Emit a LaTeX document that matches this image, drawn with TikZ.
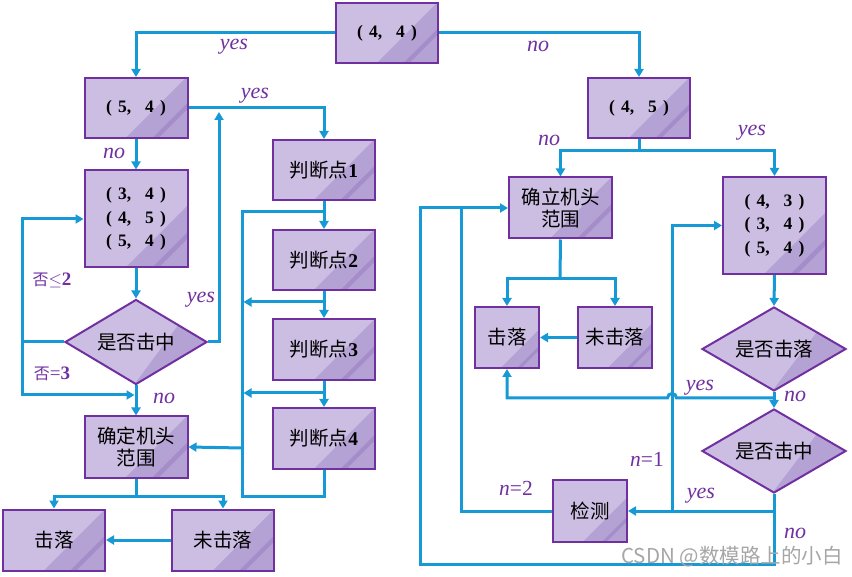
\documentclass[tikz,border=0pt]{standalone}
\usepackage{fontspec}
\setmainfont{Liberation Serif}
\newfontfamily\cjk{Noto Sans CJK SC}
\usetikzlibrary{arrows.meta,shapes.geometric,calc}
\definecolor{boxlight}{HTML}{CCBEE2}
\definecolor{boxmid}{HTML}{B5A2D4}
\definecolor{boxstripe}{HTML}{A48DC8}
\definecolor{boxborder}{HTML}{7030A0}
\definecolor{linkblue}{HTML}{1799D6}
\definecolor{labpurple}{HTML}{7030A0}
\newcommand\paircoord[2]{{\fontsize{17.5}{23.5}\selectfont\bfseries (\hspace{0.35em}#1,\hspace{0.8em}#2\hspace{0.35em})}}
\tikzset{
  glossrect/.style={path picture={
    \fill[boxmid] let \p1=(path picture bounding box.south west), \p2=(path picture bounding box.north east), \n1={0.6*(\x2-\x1)} in (\x2-\n1,\y1) -- (\x2+2pt,\y1) -- (\x2+2pt,\y1+\n1+2pt) -- cycle;
    \fill[boxstripe] let \p1=(path picture bounding box.south west), \p2=(path picture bounding box.north east), \n2={0.34*(\x2-\x1)}, \n3={0.28*(\x2-\x1)} in (\x2-\n2,\y1) -- (\x2-\n3,\y1) -- (\x2,\y1+\n3) -- (\x2,\y1+\n2) -- cycle;
  }},
  glossdia/.style={path picture={
    \fill[boxmid] let \p1=(path picture bounding box.south west), \p2=(path picture bounding box.north east), \n1={0.49*(\x2-\x1)}, \n2={0.93*(\x2-\x1)} in (\x1+\n1,\y1) -- (\x2,\y1) -- (\x2,\y2) -- (\x1+\n2,\y2) -- cycle;
    \fill[boxstripe] let \p1=(path picture bounding box.south west), \p2=(path picture bounding box.north east), \n1={0.74*(\x2-\x1)}, \n2={0.79*(\x2-\x1)}, \n3={0.43*(\y2-\y1)} in (\x1+\n1,\y1) -- (\x1+\n2,\y1) -- (\x1+\n2+\n3*0.73,\y1+\n3) -- (\x1+\n1+\n3*0.73,\y1+\n3) -- cycle;
  }},
  box/.style={rectangle, draw=boxborder, line width=2pt, fill=boxlight, inner sep=0pt, align=center,
    font=\fontsize{19.5}{23.5}\selectfont, text=black, glossrect},
  dia/.style={diamond, draw=boxborder, line width=2pt, fill=boxlight, inner sep=0pt, aspect=1.67,
    font=\fontsize{19.5}{23.5}\selectfont, text=black, glossdia},
  conn/.style={draw=linkblue, line width=3pt},
  arr/.style={conn, -{Triangle[length=8pt,width=9pt]}},
  lbl/.style={text=labpurple, inner sep=0pt, font=\fontsize{22}{22}\selectfont\itshape},
  lblc/.style={text=labpurple, inner sep=0pt, font=\fontsize{19}{19}\selectfont},
  lbln/.style={text=labpurple, inner sep=0pt, font=\fontsize{21.5}{21.5}\selectfont},
}
\begin{document}
\begin{tikzpicture}[x=1pt,y=-1pt]
\useasboundingbox (0,0) rectangle (852,577);
\fill[white] (0,0) rectangle (852,577);

% ---------- nodes ----------
\node[box, minimum width=102pt, minimum height=60pt] (n44) at (387,33) {\paircoord{4}{4}};
\node[box, minimum width=103pt, minimum height=60pt] (n54) at (136,108) {\paircoord{5}{4}};
\node[box, minimum width=102pt, minimum height=60pt] (n45) at (639,108) {\paircoord{4}{5}};
\node[box, minimum width=103pt, minimum height=97pt] (L3) at (136,219) {\paircoord{3}{4}\\\paircoord{4}{5}\\\paircoord{5}{4}};
\node[dia, minimum width=142pt, minimum height=85pt] (dL) at (136,342) {{\cjk 是否击中}};
\node[box, minimum width=103pt, minimum height=61pt, font=\fontsize{19.5}{22}\selectfont] (jL) at (136,447) {{\cjk 确定机头}\\{\cjk 范围}};
\node[box, minimum width=102pt, minimum height=61pt] (hitL) at (54,540) {{\cjk 击落}};
\node[box, minimum width=102pt, minimum height=61pt] (missL) at (223,540) {{\cjk 未击落}};
\node[box, minimum width=102pt, minimum height=60pt] (p1) at (324,170) {{\cjk 判断点}\textbf{1}};
\node[box, minimum width=102pt, minimum height=60pt] (p2) at (324,260) {{\cjk 判断点}\textbf{2}};
\node[box, minimum width=102pt, minimum height=61pt] (p3) at (324,349.5) {{\cjk 判断点}\textbf{3}};
\node[box, minimum width=102pt, minimum height=61pt] (p4) at (324,438.5) {{\cjk 判断点}\textbf{4}};
\node[box, minimum width=103pt, minimum height=61pt, font=\fontsize{19.5}{22}\selectfont] (jR) at (560.5,208) {{\cjk 确立机头}\\{\cjk 范围}};
\node[box, minimum width=103pt, minimum height=97pt] (R3) at (774.5,225.5) {\paircoord{4}{3}\\\paircoord{3}{4}\\\paircoord{5}{4}};
\node[box, minimum width=64pt, minimum height=61pt] (hitR) at (507,337.5) {{\cjk 击落}};
\node[box, minimum width=74pt, minimum height=61pt] (missR) at (615,337.5) {{\cjk 未击落}};
\node[dia, minimum width=144pt, minimum height=84pt] (dR1) at (774,349) {{\cjk 是否击落}};
\node[dia, minimum width=144pt, minimum height=84pt] (dR2) at (774,451) {{\cjk 是否击中}};
\node[box, minimum width=74pt, minimum height=62pt] (det) at (590,511) {{\cjk 检测}};

% ---------- coordinates ----------
\coordinate (yup) at (219,112);
\coordinate (lc) at (22,342);
\coordinate (lb) at (22,395);
\coordinate (lbe) at (134.5,395);
\coordinate (jLs) at (136,496);
\coordinate (b1) at (324,212);
\coordinate (bus1) at (242,212);
\coordinate (bus2) at (242,496);
\coordinate (b4) at (324,496);
\coordinate (m23) at (324,302);
\coordinate (bm23) at (243.5,302);
\coordinate (m34) at (324,393);
\coordinate (bm34) at (243.5,393);
\coordinate (bj) at (242,448);
\coordinate (r1) at (639,151);
\coordinate (r2) at (560,279);
\coordinate (y1s) at (774,398);
\coordinate (jump) at (676.5,398);
\coordinate (y1w) at (507,398);
\coordinate (y2s) at (774,511);
\coordinate (no2) at (774,564);
\coordinate (ll) at (420,564);
\coordinate (n1b) at (672,511);
\coordinate (n2t) at (461,208);

% ---------- connectors ----------
\draw[arr] (n44.west) -| (n54.north);
\draw[arr] (n44.east) -| (n45.north);
\draw[arr] (n54.east) -| (p1.north);
\draw[arr] (n54.south) -- (L3.north);
\draw[arr] (L3.south) -- (dL.north);
\draw[arr] (dL.east) -| (yup);
\draw[arr] (dL.west) -- (lc) |- (L3.west);
\draw[arr] (lc) -- (lb) -- (lbe);
\draw[arr] (dL.south) -- (jL.north);
\draw[conn] (jL.south) -- (jLs);
\draw[arr] (jLs) -| (hitL.north);
\draw[arr] (jLs) -| (missL.north);
\draw[arr] (missL.west) -- (hitL.east);

\draw[arr] (p1.south) -- (p2.north);
\draw[arr] (p2.south) -- (p3.north);
\draw[arr] (p3.south) -- (p4.north);
\draw[conn] (b1) -- (bus1) -- (bus2) -- (b4) -- (p4.south);
\draw[arr] (m23) -- (bm23);
\draw[arr] (m34) -- (bm34);
\draw[arr] (bj) -- (jL.east);

\draw[conn] (n45.south) -- (r1);
\draw[arr] (r1) -| (jR.north);
\draw[arr] (r1) -| (R3.north);
\draw[conn] (jR.south) -- (r2);
\draw[arr] (r2) -| (hitR.north);
\draw[arr] (r2) -| (missR.north);
\draw[arr] (missR.west) -- (hitR.east);
\draw[arr] (R3.south) -- (dR1.north);
\draw[arr] (dR1.south) -- (dR2.north);
\draw[arr] (y1s) -- (jump) arc[start angle=0, end angle=-180, radius=4.5] -- (y1w) -- (hitR.south);
\draw[arr] (dR2.south) -- (no2) -- (ll) |- (jR.west);
\draw[arr] (y2s) -- (det.east);
\draw[arr] (n1b) |- (R3.west);
\draw[conn] (det.west) -| (n2t);

% ---------- labels ----------
\node[lbl] (lyes1) at (234,47) {yes};
\node[lbl] (lno1) at (538,46) {no};
\node[lbl] (lyes2) at (255,96) {yes};
\node[lbl] (lno2) at (114,153) {no};
\node[lbl] (lyes3) at (201,300) {yes};
\node[lbl] (lno3) at (164,398) {no};
\node[lblc] (lf2) at (52,280) {{\cjk\fontsize{16}{16}\selectfont 否}{\fontsize{17}{17}\selectfont$\leq$}\textbf{2}};
\node[lblc] (lf3) at (52,374) {{\cjk\fontsize{16}{16}\selectfont 否}=\textbf{3}};
\node[lbl] (lno4) at (549,140) {no};
\node[lbl] (lyes4) at (752,133) {yes};
\node[lbl] (lyes5) at (700,388) {yes};
\node[lbl] (lno5) at (795,396) {no};
\node[lbl] (lyes6) at (701,496) {yes};
\node[lbl] (lno6) at (795,533) {no};
\node[lbln] (ln1) at (647,459) {\textit{n}=1};
\node[lbln] (ln2) at (516,488) {\textit{n}=2};
\node[text=black!35, inner sep=0pt, font=\cjk\fontsize{20.5}{20.5}\selectfont] (wm) at (732,557) {CSDN @数模路上的小白};
\end{tikzpicture}
\end{document}
